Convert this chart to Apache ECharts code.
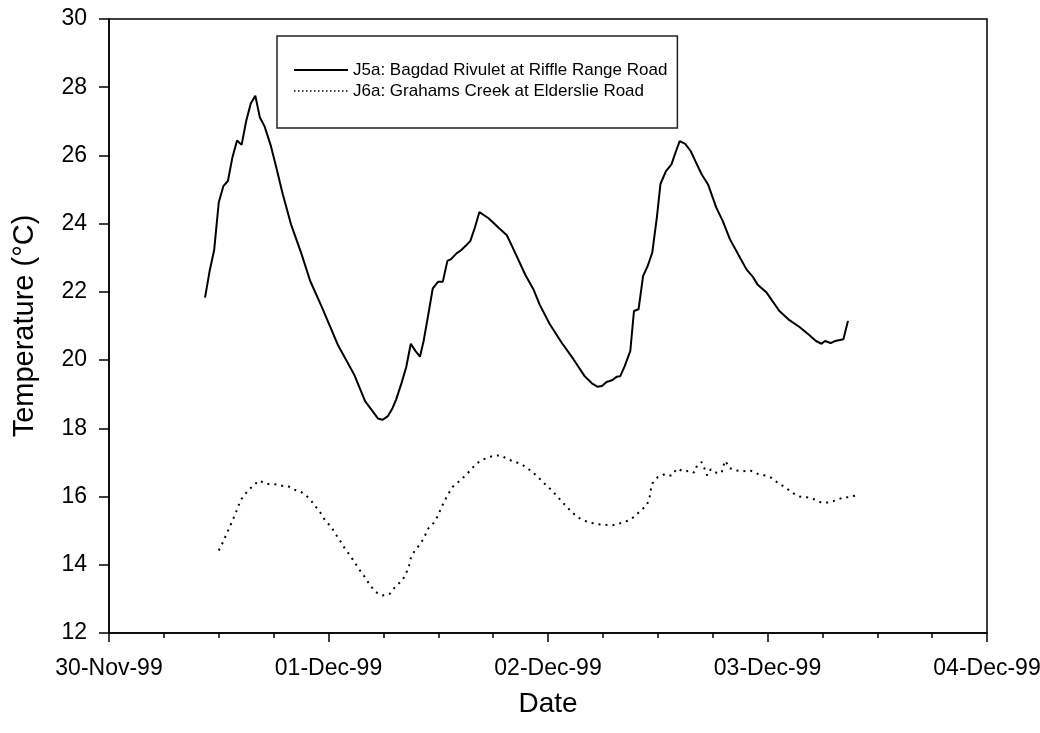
<!DOCTYPE html>
<html>
<head>
<meta charset="utf-8">
<title>Stream temperature</title>
<script src="https://cdn.jsdelivr.net/npm/echarts@6/dist/echarts.min.js"></script>
<style>
  html, body { margin: 0; padding: 0; background: #fff; }
  #chart { width: 1040px; height: 733px; }
</style>
</head>
<body>
<div id="chart"></div>
<script>
// Hours after 30-Nov-99 00:00 and water temperature (°C)
const j5aHours = [10.5, 11.0, 11.5, 12.0, 12.5, 13.0, 13.5, 14.0, 14.5, 15.0, 15.5, 16.0, 16.5, 17.0, 17.7, 18.3, 19.0, 19.9, 21.0, 22.0, 23.3, 25.0, 26.8, 28.0, 29.4, 29.9, 30.5, 31.0, 31.4, 32.0, 32.5, 33.0, 33.5, 34.0, 34.4, 34.9, 35.4, 36.0, 36.5, 37.0, 37.4, 38.0, 38.5, 39.0, 39.5, 40.0, 40.5, 41.5, 42.6, 43.5, 44.4, 45.5, 46.4, 47.1, 48.2, 49.5, 50.8, 52.0, 52.8, 53.4, 53.9, 54.4, 55.0, 55.5, 55.9, 56.4, 57.0, 57.4, 57.9, 58.4, 58.9, 59.4, 59.9, 60.3, 60.9, 61.5, 62.0, 62.4, 63.0, 63.6, 64.1, 64.8, 65.5, 66.4, 67.1, 67.9, 69.0, 69.7, 70.4, 70.9, 71.9, 73.3, 74.4, 75.5, 76.4, 77.3, 77.9, 78.3, 78.9, 79.4, 80.3, 80.8];
const j5aTemp = [21.83, 22.61, 23.23, 24.62, 25.10, 25.25, 25.95, 26.44, 26.31, 27.01, 27.52, 27.75, 27.11, 26.86, 26.28, 25.64, 24.86, 23.98, 23.15, 22.32, 21.54, 20.46, 19.58, 18.80, 18.29, 18.25, 18.36, 18.59, 18.85, 19.34, 19.80, 20.48, 20.27, 20.10, 20.56, 21.32, 22.10, 22.30, 22.30, 22.91, 22.96, 23.13, 23.22, 23.35, 23.49, 23.88, 24.34, 24.16, 23.88, 23.66, 23.15, 22.51, 22.08, 21.62, 21.05, 20.51, 20.02, 19.53, 19.32, 19.22, 19.24, 19.36, 19.41, 19.51, 19.53, 19.83, 20.27, 21.44, 21.49, 22.47, 22.76, 23.15, 24.18, 25.17, 25.54, 25.74, 26.13, 26.42, 26.34, 26.13, 25.84, 25.45, 25.15, 24.47, 24.08, 23.54, 23.00, 22.66, 22.44, 22.22, 21.98, 21.44, 21.17, 20.97, 20.77, 20.56, 20.48, 20.56, 20.50, 20.56, 20.61, 21.15];

const j6aHours = [12.0, 12.4, 13.1, 13.8, 14.4, 15.0, 15.6, 16.4, 17.2, 18.0, 18.8, 19.6, 20.3, 21.1, 21.9, 22.5, 23.1, 23.6, 24.3, 24.8, 25.3, 25.8, 26.4, 26.9, 27.4, 28.0, 28.5, 29.1, 29.9, 30.7, 31.3, 32.1, 32.5, 32.8, 33.0, 33.4, 34.0, 34.5, 34.8, 35.5, 36.0, 36.3, 36.7, 37.1, 37.6, 38.3, 39.1, 39.8, 40.6, 41.4, 42.1, 42.9, 43.7, 44.5, 45.2, 46.0, 46.8, 47.5, 48.3, 49.0, 49.7, 50.4, 51.2, 51.9, 52.7, 53.5, 54.3, 55.1, 55.9, 56.7, 57.4, 58.1, 58.8, 59.1, 59.2, 59.4, 60.0, 60.8, 61.5, 62.1, 62.9, 63.5, 64.0, 64.3, 64.8, 65.1, 65.4, 65.8, 66.4, 67.0, 67.2, 67.4, 67.8, 68.5, 69.3, 70.1, 70.9, 71.7, 72.4, 73.2, 74.0, 74.7, 75.5, 76.3, 77.1, 77.9, 78.7, 79.5, 80.3, 81.0, 81.8];
const j6aTemp = [14.42, 14.63, 15.05, 15.48, 15.90, 16.11, 16.28, 16.47, 16.37, 16.37, 16.32, 16.30, 16.20, 16.12, 15.95, 15.74, 15.53, 15.31, 15.11, 14.89, 14.69, 14.47, 14.26, 14.05, 13.85, 13.63, 13.42, 13.21, 13.10, 13.15, 13.36, 13.55, 13.76, 13.97, 14.19, 14.40, 14.60, 14.81, 15.03, 15.23, 15.45, 15.66, 15.87, 16.08, 16.29, 16.45, 16.65, 16.86, 17.05, 17.14, 17.20, 17.20, 17.08, 17.01, 16.93, 16.78, 16.60, 16.41, 16.21, 16.01, 15.80, 15.60, 15.40, 15.30, 15.23, 15.19, 15.17, 15.16, 15.22, 15.29, 15.40, 15.58, 15.75, 15.95, 16.16, 16.38, 16.57, 16.66, 16.61, 16.82, 16.73, 16.76, 16.70, 16.92, 17.01, 16.83, 16.62, 16.80, 16.70, 16.70, 16.92, 17.05, 16.84, 16.77, 16.74, 16.77, 16.67, 16.62, 16.55, 16.39, 16.26, 16.11, 16.00, 15.98, 15.92, 15.82, 15.83, 15.89, 15.98, 15.98, 16.05];

const seriesNames = ['J5a: Bagdad Rivulet at Riffle Range Road', 'J6a: Grahams Creek at Elderslie Road'];
const xTickLabels = ['30-Nov-99', '01-Dec-99', '02-Dec-99', '03-Dec-99', '04-Dec-99'];

const zip = (xs, ys) => xs.map((x, i) => [x, ys[i]]);
const FONT = '"Liberation Sans", Arial, Helvetica, sans-serif';

const chart = echarts.init(document.getElementById('chart'), null, { renderer: 'canvas' });
chart.setOption({
  animation: false,
  backgroundColor: '#fff',
  textStyle: { fontFamily: FONT, color: '#000' },
  grid: {
    left: 109, right: 53, top: 19, bottom: 100,
    outerBoundsMode: 'none',
    containLabel: false,
    show: true, borderColor: '#000', borderWidth: 1.5, backgroundColor: 'transparent'
  },
  legend: {
    orient: 'vertical',
    left: 277, top: 36,
    padding: [23.5, 10, 26.5, 16],
    itemGap: 0,
    itemWidth: 54,
    itemHeight: 14,
    borderColor: '#222',
    borderWidth: 1.5,
    backgroundColor: '#fff',
    itemStyle: { opacity: 0 },
    textStyle: { fontSize: 17, lineHeight: 21, color: '#000', fontFamily: FONT },
    data: [
      { name: seriesNames[0], lineStyle: { width: 2 } },
      { name: seriesNames[1], lineStyle: { width: 1.5, type: [1.5, 2.5] } }
    ]
  },
  xAxis: {
    type: 'value',
    min: 0, max: 96, interval: 24,
    name: 'Date',
    nameLocation: 'middle',
    nameGap: 57,
    nameTextStyle: { fontSize: 28, color: '#000', fontFamily: FONT },
    axisLine: { lineStyle: { color: '#000', width: 1.5 } },
    axisTick: { length: 9, lineStyle: { color: '#000', width: 1.5 } },
    minorTick: { show: true, splitNumber: 4, length: 5, lineStyle: { color: '#000', width: 1.5 } },
    axisLabel: {
      fontSize: 23, color: '#000', margin: 24, fontFamily: FONT,
      formatter: v => xTickLabels[Math.round(v / 24)]
    },
    splitLine: { show: false }
  },
  yAxis: {
    type: 'value',
    min: 12, max: 30, interval: 2,
    name: 'Temperature (°C)',
    nameLocation: 'middle',
    nameGap: 70,
    nameTextStyle: { fontSize: 29, color: '#000', fontFamily: FONT },
    axisLine: { show: true, lineStyle: { color: '#000', width: 1.5 } },
    axisTick: { show: true, length: 10, lineStyle: { color: '#000', width: 1.5 } },
    axisLabel: { fontSize: 23, color: '#000', margin: 22, fontFamily: FONT },
    splitLine: { show: false }
  },
  series: [
    {
      name: seriesNames[0],
      type: 'line',
      data: zip(j5aHours, j5aTemp),
      symbol: 'none',
      lineStyle: { color: '#000', width: 2 },
      itemStyle: { color: '#000' },
      z: 3
    },
    {
      name: seriesNames[1],
      type: 'line',
      data: zip(j6aHours, j6aTemp),
      symbol: 'none',
      lineStyle: { color: '#000', width: 2, type: [2, 5] },
      itemStyle: { color: '#000' },
      z: 2
    }
  ]
});
</script>
</body>
</html>
